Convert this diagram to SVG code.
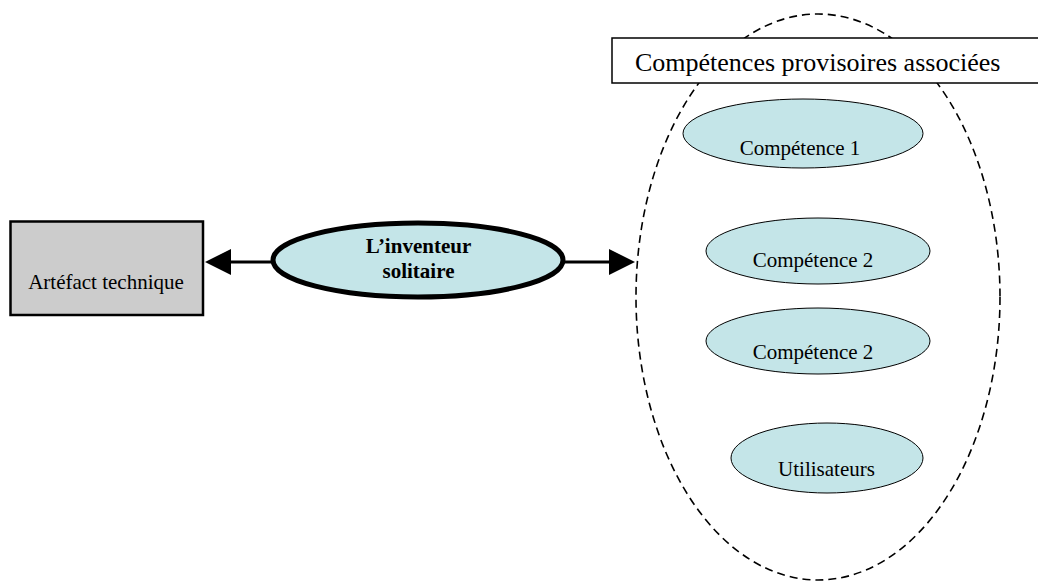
<svg xmlns="http://www.w3.org/2000/svg" width="1038" height="581" viewBox="0 0 1038 581">
<style>
  .serif { font-family: "Liberation Serif", "Times New Roman", serif; fill: #000; }
  .small { font-size: 21px; text-anchor: middle; }
  .bold { font-size: 21px; font-weight: bold; text-anchor: middle; }
  .title { font-size: 26px; }
  .comp { fill: #c4e5e8; stroke: #000; stroke-width: 1; }
  .conn { stroke: #000; stroke-width: 3; fill: none; }
</style>
<defs>
  <marker id="arrow" markerUnits="userSpaceOnUse" viewBox="0 0 26 26" markerWidth="26" markerHeight="26" refX="16" refY="13" orient="auto">
    <path d="M0,0 L26,13 L0,26 Z" fill="#000"/>
  </marker>
</defs>
<rect width="1038" height="581" fill="#fff"/>

<g id="groupe-competences">
  <ellipse cx="818" cy="297" rx="182" ry="283" fill="none" stroke="#000" stroke-width="1.6" stroke-dasharray="8 5"/>
</g>

<g id="titre-competences">
  <rect x="612" y="38" width="440" height="45" fill="#fff" stroke="#000" stroke-width="1.5"/>
  <text class="serif title" x="635" y="71">Compétences provisoires associées</text>
</g>

<g id="connecteurs">
  <line class="conn" x1="271" y1="262" x2="215" y2="262" marker-end="url(#arrow)"/>
  <line class="conn" x1="563" y1="262" x2="625" y2="262" marker-end="url(#arrow)"/>
</g>

<g id="artefact">
  <rect x="10.5" y="221.5" width="192.5" height="93.5" fill="#cccccc" stroke="#000" stroke-width="2.5"/>
  <text class="serif small" x="106" y="289">Artéfact  technique</text>
</g>

<g id="inventeur">
  <ellipse cx="418" cy="260" rx="145" ry="37" fill="#c4e5e8" stroke="#000" stroke-width="5"/>
  <text class="serif bold" x="418.5" y="253">L’inventeur</text>
  <text class="serif bold" x="418.5" y="278">solitaire</text>
</g>

<g id="competence-1">
  <ellipse class="comp" cx="803" cy="133.5" rx="120" ry="34.5"/>
  <text class="serif small" x="800" y="155">Compétence 1</text>
</g>

<g id="competence-2a">
  <ellipse class="comp" cx="818" cy="251" rx="112" ry="33"/>
  <text class="serif small" x="813" y="267">Compétence 2</text>
</g>

<g id="competence-2b">
  <ellipse class="comp" cx="818" cy="341" rx="112" ry="33"/>
  <text class="serif small" x="813" y="359">Compétence 2</text>
</g>

<g id="utilisateurs">
  <ellipse class="comp" cx="827" cy="458" rx="96" ry="35"/>
  <text class="serif small" x="826.5" y="476">Utilisateurs</text>
</g>
</svg>
